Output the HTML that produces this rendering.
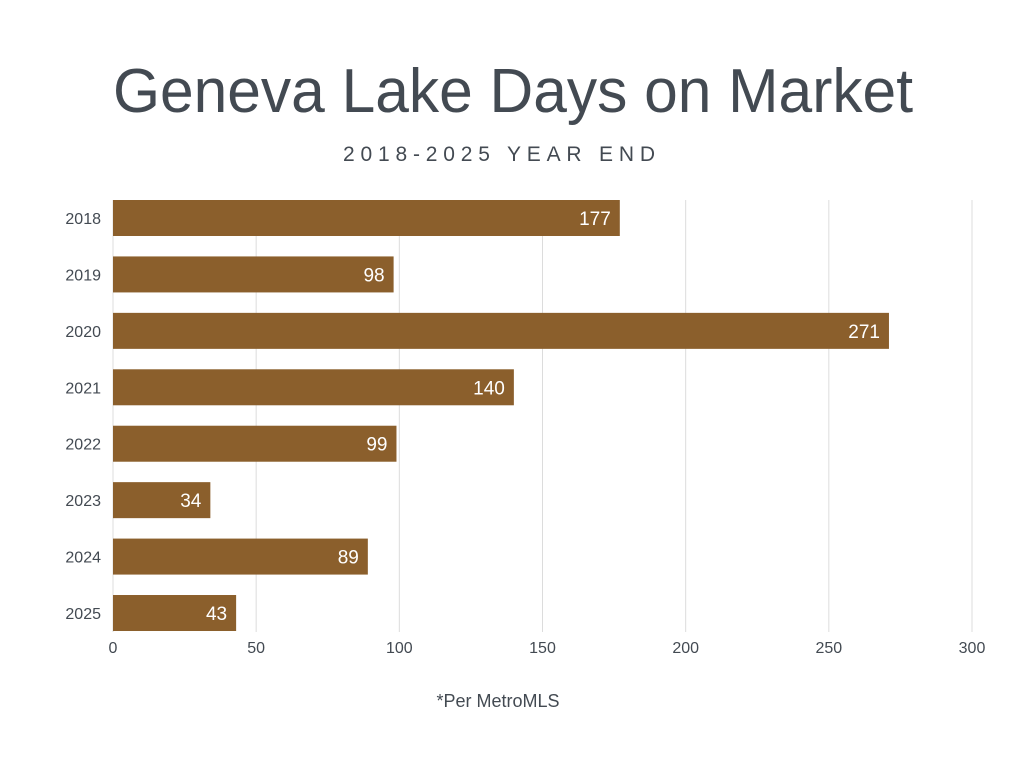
<!DOCTYPE html>
<html><head><meta charset="utf-8"><style>
body{margin:0;background:#fff;width:1024px;height:768px;overflow:hidden;font-family:"Liberation Sans",sans-serif}
</style></head><body>
<svg width="1024" height="768">
<text x="113" y="112" textLength="800" lengthAdjust="spacingAndGlyphs" font-family="Liberation Sans" font-size="62" fill="#434a52">Geneva Lake Days on Market</text>
<text x="343" y="161" textLength="312" lengthAdjust="spacing" font-family="Liberation Sans" font-size="21" fill="#434a52">2018-2025 YEAR END</text>
<g id="grid"></g><g id="bars"></g><g id="labels"></g>
<text x="498" y="707" text-anchor="middle" font-size="18" fill="#434a52">*Per MetroMLS</text>
</svg>
<script>
const categories=["2018","2019","2020","2021","2022","2023","2024","2025"];
const values=[177,98,271,140,99,34,89,43];
const ticks=[0,50,100,150,200,250,300];
const NS="http://www.w3.org/2000/svg";
const x0=113,x1=972,xMax=300,top0=200,step=56.43,bh=36;
const xs=v=>x0+(x1-x0)*v/xMax;
function mk(t,a,p){const e=document.createElementNS(NS,t);for(const k in a)e.setAttribute(k,a[k]);p.appendChild(e);return e;}
const g=document.getElementById('grid'),b=document.getElementById('bars'),l=document.getElementById('labels');
ticks.forEach(t=>{
 const ln=mk('line',{x1:xs(t),x2:xs(t),y1:top0,y2:632,stroke:'#dcdcdc','stroke-width':1},g);
 
 
 const tx=mk('text',{x:xs(t),y:653,'text-anchor':'middle','font-size':16,fill:'#434a52'},l);
 tx.textContent=t;
 
 
});
categories.forEach((c,i)=>{
 const y=top0+i*step;
 const r=mk('rect',{x:x0,y:y,width:xs(values[i])-x0,height:bh,fill:'#8b5f2c'},b);
 
 
 const v=mk('text',{x:xs(values[i])-9,y:y+bh/2+7,'text-anchor':'end','font-size':19,fill:'#fff'},l);
 v.textContent=values[i];
 
 
 const cl=mk('text',{x:101,y:y+bh/2+6,'text-anchor':'end','font-size':16,fill:'#434a52'},l);
 cl.textContent=c;
 
 
});
</script>
</body></html>
